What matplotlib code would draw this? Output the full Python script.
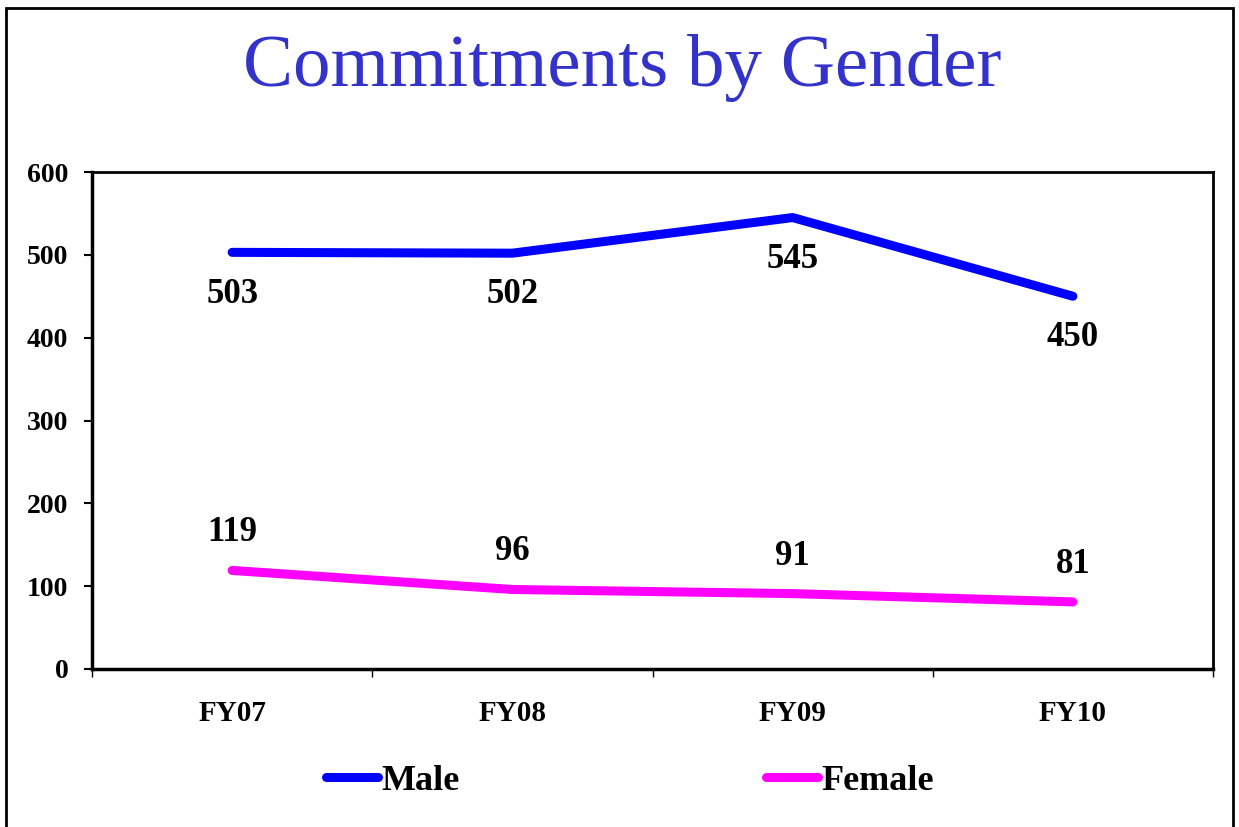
import matplotlib
matplotlib.use('Agg')
import matplotlib.pyplot as plt
import matplotlib.patches as patches

categories = ['FY07', 'FY08', 'FY09', 'FY10']
male = [503, 502, 545, 450]
female = [119, 96, 91, 81]
y_ticks = [0, 100, 200, 300, 400, 500, 600]

plt.rcParams['font.family'] = ['Liberation Serif', 'DejaVu Serif']

fig = plt.figure(figsize=(12.39, 8.27), dpi=100)
ax = fig.add_axes([92/1239, 1 - 669/827, (1213 - 92)/1239, (669 - 172)/827])

x = list(range(len(categories)))
ax.plot(x, male, color='#0000FF', lw=6.5, solid_capstyle='round', label='Male')
ax.plot(x, female, color='#FF00FF', lw=6.5, solid_capstyle='round', label='Female')

# data labels: male below, female above
for xi, v in zip(x, male):
    ax.annotate(str(v), (xi, v), xytext=(0, -30), textcoords='offset points',
                ha='center', va='center', fontsize=25, fontweight='bold')
for xi, v in zip(x, female):
    ax.annotate(str(v), (xi, v), xytext=(0, 27), textcoords='offset points',
                ha='center', va='center', fontsize=25, fontweight='bold')

ax.set_xlim(-0.5, len(categories) - 0.5)
ax.set_ylim(0, 600)
ax.set_yticks(y_ticks)
ax.set_yticklabels([str(t) for t in y_ticks], fontsize=20, fontweight='bold')
ax.tick_params(axis='y', direction='out', length=6, width=1.5, pad=11)

# category boundaries as major ticks, labels on minor ticks at centres
ax.set_xticks([i - 0.5 for i in range(len(categories) + 1)])
ax.set_xticklabels([])
ax.set_xticks(x, minor=True)
ax.set_xticklabels(categories, minor=True, fontsize=21, fontweight='bold')
ax.tick_params(axis='x', which='major', direction='out', length=6, width=1)
ax.tick_params(axis='x', which='minor', length=0, pad=22)

for s in ax.spines.values():
    s.set_linewidth(2)
ax.spines['left'].set_linewidth(2.5)
ax.spines['bottom'].set_linewidth(2.5)

fig.text(622/1239, 1 - 68/827, 'Commitments by Gender', ha='center', va='center',
         fontsize=54, color='#3333CC')

fig.legend(loc='center', bbox_to_anchor=(630/1239, 1 - 781/827), ncol=2,
           frameon=False, prop={'size': 26, 'weight': 'bold'},
           handlelength=1.42, handletextpad=0.1, columnspacing=8.5)

# outer frame (open at the bottom edge)
fig.patches.append(patches.Rectangle((6/1239, -0.05), (1233 - 6)/1239, 1.05 - 8/827,
                                     transform=fig.transFigure, fill=False,
                                     edgecolor='black', lw=2))

fig.savefig('out.png', dpi=100)
